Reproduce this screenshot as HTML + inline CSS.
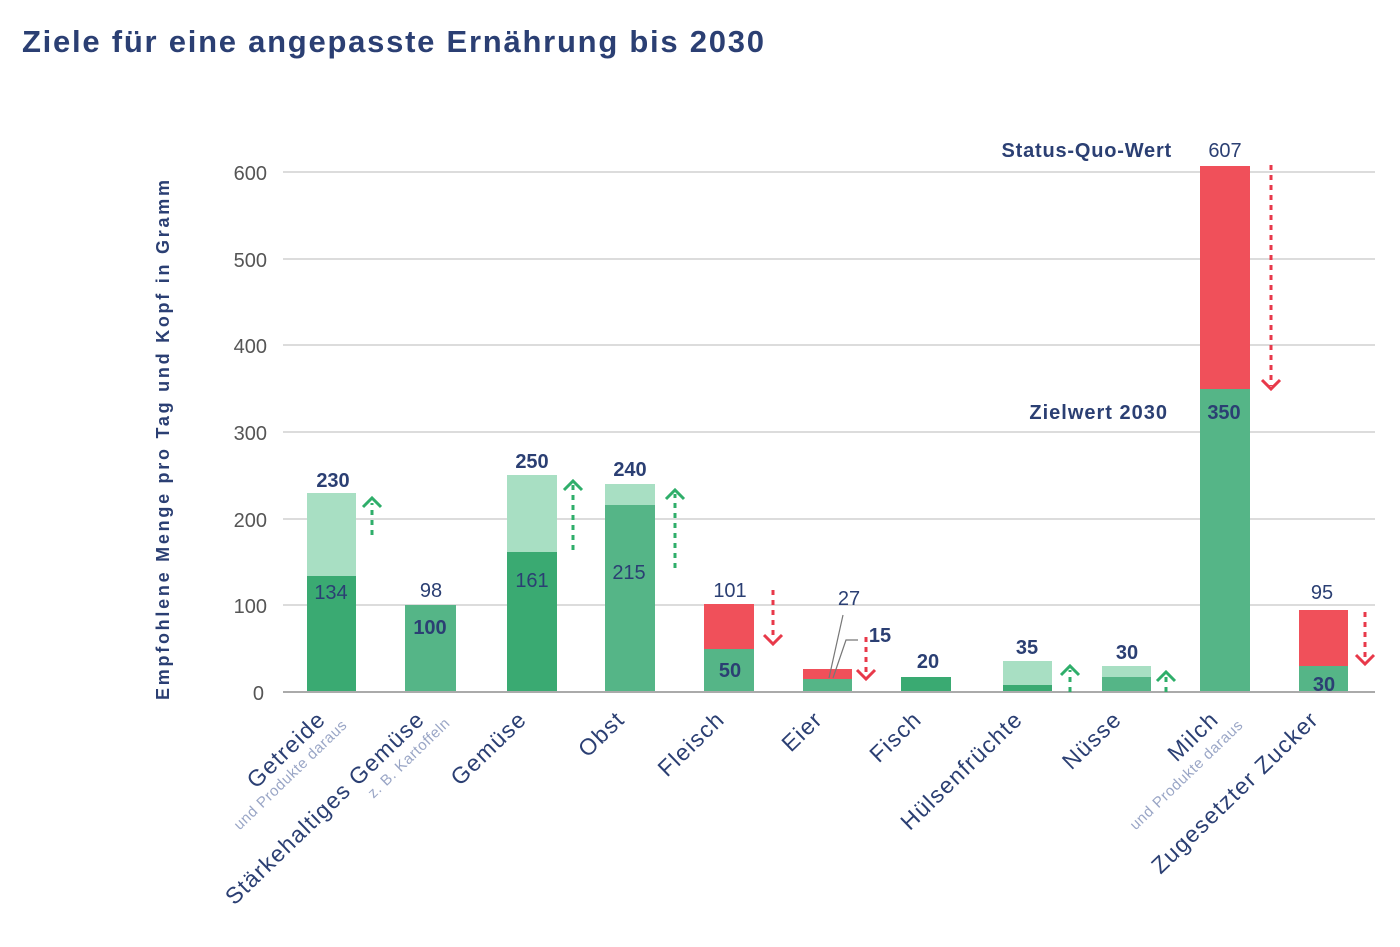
<!DOCTYPE html>
<html><head><meta charset="utf-8"><style>
html,body{margin:0;padding:0;background:#fff;}
svg{display:block;font-family:"Liberation Sans",sans-serif;}
</style></head><body>
<svg width="1400" height="947" viewBox="0 0 1400 947" xmlns="http://www.w3.org/2000/svg">
<text x="22" y="52" font-size="31" font-weight="bold" fill="#2b3f73" textLength="742" lengthAdjust="spacing">Ziele für eine angepasste Ernährung bis 2030</text>
<!-- grid -->
<g stroke="#dcdcdc" stroke-width="2">
<line x1="283" y1="172" x2="1375" y2="172"/><line x1="283" y1="259" x2="1375" y2="259"/>
<line x1="283" y1="345" x2="1375" y2="345"/><line x1="283" y1="432" x2="1375" y2="432"/>
<line x1="283" y1="519" x2="1375" y2="519"/><line x1="283" y1="605" x2="1375" y2="605"/>
</g>
<g font-size="20" fill="#555" text-anchor="end">
<text x="267" y="180">600</text><text x="267" y="267">500</text><text x="267" y="353">400</text>
<text x="267" y="440">300</text><text x="267" y="527">200</text><text x="267" y="613">100</text><text x="264" y="700">0</text>
</g>
<text transform="translate(169,700) rotate(-90)" font-size="18" font-weight="bold" fill="#2b3f73" textLength="520" lengthAdjust="spacing">Empfohlene Menge pro Tag und Kopf in Gramm</text>
<!-- bars -->
<rect x="307" y="493" width="49" height="199" fill="#a8dfc3"/>
<rect x="307" y="576" width="49" height="116" fill="#3aaa72"/>
<rect x="405" y="605" width="51" height="87" fill="#55b587"/>
<rect x="507" y="475" width="50" height="217" fill="#a8dfc3"/>
<rect x="507" y="552" width="50" height="140" fill="#3aaa72"/>
<rect x="605" y="484" width="50" height="208" fill="#a8dfc3"/>
<rect x="605" y="505" width="50" height="187" fill="#55b587"/>
<rect x="704" y="604" width="50" height="88" fill="#f0505a"/>
<rect x="704" y="649" width="50" height="43" fill="#55b587"/>
<rect x="803" y="669" width="49" height="23" fill="#f0505a"/>
<rect x="803" y="679" width="49" height="13" fill="#55b587"/>
<rect x="901" y="677" width="50" height="15" fill="#3aaa72"/>
<rect x="1003" y="661" width="49" height="31" fill="#a8dfc3"/>
<rect x="1003" y="685" width="49" height="7" fill="#3aaa72"/>
<rect x="1102" y="666" width="49" height="26" fill="#a8dfc3"/>
<rect x="1102" y="677" width="49" height="15" fill="#55b587"/>
<rect x="1200" y="166" width="50" height="526" fill="#f0505a"/>
<rect x="1200" y="389" width="50" height="303" fill="#55b587"/>
<rect x="1299" y="610" width="49" height="82" fill="#f0505a"/>
<rect x="1299" y="666" width="49" height="26" fill="#55b587"/>
<line x1="283" y1="692" x2="1375" y2="692" stroke="#aaa" stroke-width="2"/>
<!-- arrows -->
<g stroke-dasharray="5,5" stroke-width="3" fill="none">
<g stroke="#2fae6a">
<line x1="372" y1="535" x2="372" y2="503"/><path d="M363 507 L372 498 L381 507" stroke-dasharray="none"/>
<line x1="573" y1="550" x2="573" y2="485"/><path d="M564 490 L573 481 L582 490" stroke-dasharray="none"/>
<line x1="675" y1="568" x2="675" y2="494"/><path d="M666 499 L675 490 L684 499" stroke-dasharray="none"/>
<line x1="1070" y1="692" x2="1070" y2="670"/><path d="M1061 675 L1070 666 L1079 675" stroke-dasharray="none"/>
<line x1="1166" y1="692" x2="1166" y2="676"/><path d="M1157 681 L1166 672 L1175 681" stroke-dasharray="none"/>
</g>
<g stroke="#e8394a">
<line x1="773" y1="590" x2="773" y2="640"/><path d="M764 635 L773 644 L782 635" stroke-dasharray="none"/>
<line x1="866" y1="637" x2="866" y2="675"/><path d="M857 670 L866 679 L875 670" stroke-dasharray="none"/>
<line x1="1271" y1="165" x2="1271" y2="386"/><path d="M1262 380 L1271 389 L1280 380" stroke-dasharray="none"/>
<line x1="1365" y1="612" x2="1365" y2="660"/><path d="M1356 655 L1365 664 L1374 655" stroke-dasharray="none"/>
</g>
</g>
<path d="M829 678 L843 615 M833 678 L846 640 L858 640" stroke="#777" stroke-width="1.2" fill="none"/>
<!-- value labels -->
<g font-size="20" fill="#2b3f73" text-anchor="middle">
<text x="333" y="487" font-weight="bold">230</text>
<text x="331" y="599">134</text>
<text x="431" y="597">98</text>
<text x="430" y="634" font-weight="bold">100</text>
<text x="532" y="468" font-weight="bold">250</text>
<text x="532" y="587">161</text>
<text x="630" y="476" font-weight="bold">240</text>
<text x="629" y="579">215</text>
<text x="730" y="597">101</text>
<text x="730" y="677" font-weight="bold">50</text>
<text x="849" y="605">27</text>
<text x="880" y="642" font-weight="bold">15</text>
<text x="928" y="668" font-weight="bold">20</text>
<text x="1027" y="654" font-weight="bold">35</text>
<text x="1127" y="659" font-weight="bold">30</text>
<text x="1225" y="157">607</text>
<text x="1224" y="419" font-weight="bold">350</text>
<text x="1322" y="599">95</text>
<text x="1324" y="691" font-weight="bold">30</text>
<text x="1172" y="157" text-anchor="end" font-weight="bold" letter-spacing="0.8">Status-Quo-Wert</text>
<text x="1168" y="419" text-anchor="end" font-weight="bold" letter-spacing="1">Zielwert 2030</text>
</g>
<!-- category labels -->
<g font-size="23" fill="#2b3f73" text-anchor="end" letter-spacing="1.3">
<text transform="translate(327,721) rotate(-44)">Getreide</text>
<text transform="translate(426,721) rotate(-44)">Stärkehaltiges Gemüse</text>
<text transform="translate(528,721) rotate(-44)">Gemüse</text>
<text transform="translate(626,721) rotate(-44)">Obst</text>
<text transform="translate(726,721) rotate(-44)">Fleisch</text>
<text transform="translate(824,721) rotate(-44)">Eier</text>
<text transform="translate(923,721) rotate(-44)">Fisch</text>
<text transform="translate(1024,721) rotate(-44)">Hülsenfrüchte</text>
<text transform="translate(1123,721) rotate(-44)">Nüsse</text>
<text transform="translate(1220,721) rotate(-44)">Milch</text>
<text transform="translate(1320,721) rotate(-44)">Zugesetzter Zucker</text>
</g>
<g font-size="15" fill="#9aa6c6" text-anchor="end" letter-spacing="0.6">
<text transform="translate(348,726) rotate(-44)">und Produkte daraus</text>
<text transform="translate(451,724) rotate(-44)">z. B. Kartoffeln</text>
<text transform="translate(1244,726) rotate(-44)">und Produkte daraus</text>
</g>
</svg>
</body></html>
